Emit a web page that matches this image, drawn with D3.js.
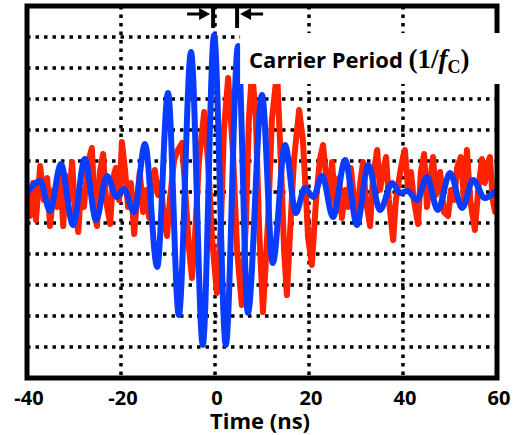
<!DOCTYPE html>
<html>
<head>
<meta charset="utf-8">
<script src="https://cdn.jsdelivr.net/npm/d3@7"></script>
<style>
	html, body { margin: 0; padding: 0; background: #fff; }
	svg { display: block; font-family: 'Open Sans', sans-serif; }
	.grid line { stroke: #000; stroke-width: 3.5; stroke-dasharray: 3.5,5; }
	.tick-label { font-size: 20px; font-weight: bold; }
	.x-title { font-size: 22px; font-weight: bold; }
</style>
</head>
<body>
<div id="chart"></div>
<script>
/* global d3 */

// Time axis (ns) and grid
var xTicks = [-40, -20, 0, 20, 40, 60];
var yGridStep = 31; // amplitude units per grid division
var yLimit = 186;

// Received pulse (red): time (ns), amplitude
var redTime = [
	-40, -39.4, -38.7, -38.1, -37.2, -36.4, -35.7, -35.1, -34.3, -33.6,
	-33.0, -32.3, -31.7, -31.1, -30.4, -29.8, -29.1, -28.5, -27.9, -27.0,
	-26.2, -25.5, -25.1, -24.5, -23.8, -23.2, -22.3, -21.7, -21.1, -20.4,
	-19.8, -19.1, -18.5, -17.9, -17.2, -16.6, -16.0, -15.3, -14.7, -14.0,
	-13.4, -12.8, -12.1, -11.5, -10.9, -10.2, -9.6, -8.7, -7.9, -7.0,
	-6.2, -5.5, -4.9, -4.3, -3.4, -2.3, -1.5, -0.6, 0.4, 1.3,
	1.9, 2.8, 3.8, 4.7, 5.7, 6.6, 7.2, 7.9, 8.7, 9.4,
	10.2, 11.3, 12.1, 13.2, 14.0, 14.7, 15.3, 16.0, 16.8, 17.9,
	18.7, 19.4, 19.8, 20.6, 21.5, 22.3, 23.0, 23.6, 24.3, 24.9,
	25.7, 26.4, 27.0, 27.7, 28.3, 28.9, 29.6, 30.2, 30.9, 31.5,
	32.1, 33.0, 33.6, 34.5, 35.1, 35.7, 36.4, 37.0, 37.9, 38.5,
	39.4, 40.0, 40.4, 41.1, 41.7, 42.3, 43.2, 43.8, 44.5, 45.1,
	45.7, 46.4, 47.0, 47.9, 48.7, 49.6, 50.2, 50.9, 51.5, 52.3,
	53.0, 53.6, 54.3, 54.9, 55.3, 56.0, 56.8, 57.4, 58.1, 58.5,
	59.1, 59.6, 60.0
];
var redValue = [
	-8, -24, 9, -28, 26, -8, 14, -34, 2, -15,
	24, -34, 16, -8, 30, -20, -40, 2, -15, 30,
	44, -26, -34, 20, 38, -8, -32, 14, 24, -8,
	50, 20, -15, 9, -42, -8, 20, -20, 2, -26,
	9, 22, -3, 9, -26, -44, -8, 32, 42, 49,
	-8, -58, -86, -48, 32, 80, 32, -48, -101, -28,
	62, 114, 42, -58, -113, -28, 72, 122, 72, -38,
	-120, -28, 72, 120, 32, -58, -103, -38, 32, 82,
	52, -8, -45, -73, -8, 32, 47, 17, -8, 30,
	-20, 14, -26, 2, -15, 24, -8, -26, 9, 30,
	-8, -34, 14, 42, 2, 20, 35, -8, -48, -8,
	20, 35, 42, 2, 20, -8, -32, 20, 38, -15,
	9, 35, -3, 20, -20, -24, 2, -8, 24, 35,
	-8, 42, -8, -26, -38, 2, 33, 9, 30, 35,
	-8, -20, -15
];

// Reference pulse (blue): turning points of the carrier
var blueTime = [
	-40, -37.2, -35.1, -32.8, -30.2, -27.7, -25.3, -23.0, -20.9, -19.4,
	-17.2, -14.9, -12.3, -10.0, -7.7, -5.1, -2.6, -0.2, 2.3, 4.9,
	7.0, 10.0, 12.3, 14.9, 17.2, 19.1, 20.9, 22.8, 25.1, 27.7,
	30.2, 32.6, 35.1, 37.7, 39.4, 40.9, 43.0, 45.1, 47.4, 50.0,
	52.6, 54.9, 57.4, 60
];
var blueValue = [
	-1, 11, -19, 28, -33, 33, -28, 16, -5, 3,
	-20, 48, -75, 99, -123, 140, -153, 157, -153, 146,
	-121, 97, -71, 47, -21, 4, -5, 16, -25, 32,
	-33, 27, -18, 9, -1, 1, -8, 15, -18, 19,
	-16, 12, -6, 2
];

// Carrier period marker (ns) and label
var periodMarks = [-0.4, 4.7];
var periodLabel = 'Carrier Period ';

(function() {

	var margin = {
		top: 6,
		left: 27,
		right: 17,
		bottom: 57
	};

	var outerWidth = 514,
		outerHeight = 435,
		width = outerWidth - margin.left - margin.right,
		height = outerHeight - margin.top - margin.bottom;

	var xScale = d3.scaleLinear()
		.domain([ -40, 60 ])
		.range([ 0, width ]);
	var yScale = d3.scaleLinear()
		.domain([ -yLimit, yLimit ])
		.range([ height, 0 ]);

	var yGrid = d3.range(-yLimit, yLimit + 1, yGridStep);

	var red = redTime.map(function(t, i) {
		return { t: t, v: redValue[i] };
	});
	var blue = blueTime.map(function(t, i) {
		return { t: t, v: blueValue[i] };
	});

	var svg = d3.select('#chart').append('svg')
		.attr('width', outerWidth)
		.attr('height', outerHeight);

	svg.append('defs').append('clipPath')
		.attr('id', 'plot-clip')
		.append('rect')
		.attr('width', width)
		.attr('height', height);

	var g = svg.append('g')
		.attr('transform', 'translate(' + margin.left + ',' + margin.top + ')');

	// Dotted grid
	var gGrid = g.append('g').attr('class', 'grid');
	gGrid.selectAll('.vgrid')
		.data(xTicks.slice(1, -1))
		.enter().append('line')
		.attr('x1', function(d) { return xScale(d); })
		.attr('x2', function(d) { return xScale(d); })
		.attr('y1', 0)
		.attr('y2', height);
	gGrid.selectAll('.hgrid')
		.data(yGrid.slice(1, -1))
		.enter().append('line')
		.attr('x1', 0)
		.attr('x2', width)
		.attr('y1', function(d) { return yScale(d); })
		.attr('y2', function(d) { return yScale(d); });

	// Traces
	var gLines = g.append('g').attr('clip-path', 'url(#plot-clip)');
	var redLine = d3.line()
		.x(function(d) { return xScale(d.t); })
		.y(function(d) { return yScale(d.v); })
		.curve(d3.curveLinear);
	var blueLine = d3.line()
		.x(function(d) { return xScale(d.t); })
		.y(function(d) { return yScale(d.v); })
		.curve(d3.curveMonotoneX);

	gLines.append('path')
		.datum(red)
		.attr('d', redLine)
		.attr('fill', 'none')
		.attr('stroke', '#ff2200')
		.attr('stroke-width', 6)
		.attr('stroke-linejoin', 'round');
	gLines.append('path')
		.datum(blue)
		.attr('d', blueLine)
		.attr('fill', 'none')
		.attr('stroke', '#0a3cff')
		.attr('stroke-width', 6)
		.attr('stroke-linejoin', 'round');

	// Frame
	g.append('rect')
		.attr('x', 0)
		.attr('y', 0)
		.attr('width', width)
		.attr('height', height)
		.attr('fill', 'none')
		.attr('stroke', '#000')
		.attr('stroke-width', 5);

	// Label box hides part of the grid and the right border
	var boxLeft = xScale(periodMarks[1]) + 3;
	g.append('rect')
		.attr('x', boxLeft)
		.attr('y', 27)
		.attr('width', outerWidth - margin.left - boxLeft)
		.attr('height', 51)
		.attr('fill', '#fff');

	var label = g.append('text')
		.attr('x', boxLeft + 9)
		.attr('y', 62)
		.style('font-size', '22px')
		.style('font-weight', 'bold');
	label.append('tspan').text(periodLabel);
	label.append('tspan')
		.style('font-family', "'Liberation Serif', serif")
		.style('font-size', '27px')
		.text('(1/');
	label.append('tspan')
		.style('font-family', "'Liberation Serif', serif")
		.style('font-size', '27px')
		.style('font-style', 'italic')
		.text('f');
	label.append('tspan')
		.style('font-family', "'Liberation Serif', serif")
		.style('font-size', '18px')
		.attr('dy', 5)
		.text('C');
	label.append('tspan')
		.style('font-family', "'Liberation Serif', serif")
		.style('font-size', '27px')
		.attr('dy', -5)
		.text(')');

	// Period marker: |<- ->| bars with arrows pointing inward
	var gMark = g.append('g');
	periodMarks.forEach(function(t, i) {
		var x = xScale(t),
			dir = i === 0 ? 1 : -1,
			tip = x - dir * 3,
			tail = x - dir * 26,
			ay = 8;
		gMark.append('line')
			.attr('x1', x).attr('x2', x)
			.attr('y1', -2).attr('y2', 22)
			.attr('stroke', '#000')
			.attr('stroke-width', 4);
		gMark.append('line')
			.attr('x1', tail).attr('x2', tip - dir * 8)
			.attr('y1', ay).attr('y2', ay)
			.attr('stroke', '#000')
			.attr('stroke-width', 3);
		gMark.append('path')
			.attr('d', 'M' + tip + ',' + ay +
				'L' + (tip - dir * 11) + ',' + (ay - 6) +
				'L' + (tip - dir * 11) + ',' + (ay + 6) + 'Z')
			.attr('fill', '#000');
	});

	// Tick labels
	g.append('g')
		.selectAll('text')
		.data(xTicks)
		.enter().append('text')
		.attr('class', 'tick-label')
		.attr('x', function(d) { return xScale(d) + 2; })
		.attr('y', height + 27)
		.attr('text-anchor', 'middle')
		.text(function(d) { return d; });

	g.append('text')
		.attr('class', 'x-title')
		.attr('x', width / 2 - 2)
		.attr('y', height + 51)
		.attr('text-anchor', 'middle')
		.text('Time (ns)');

})();
</script>
</body>
</html>
